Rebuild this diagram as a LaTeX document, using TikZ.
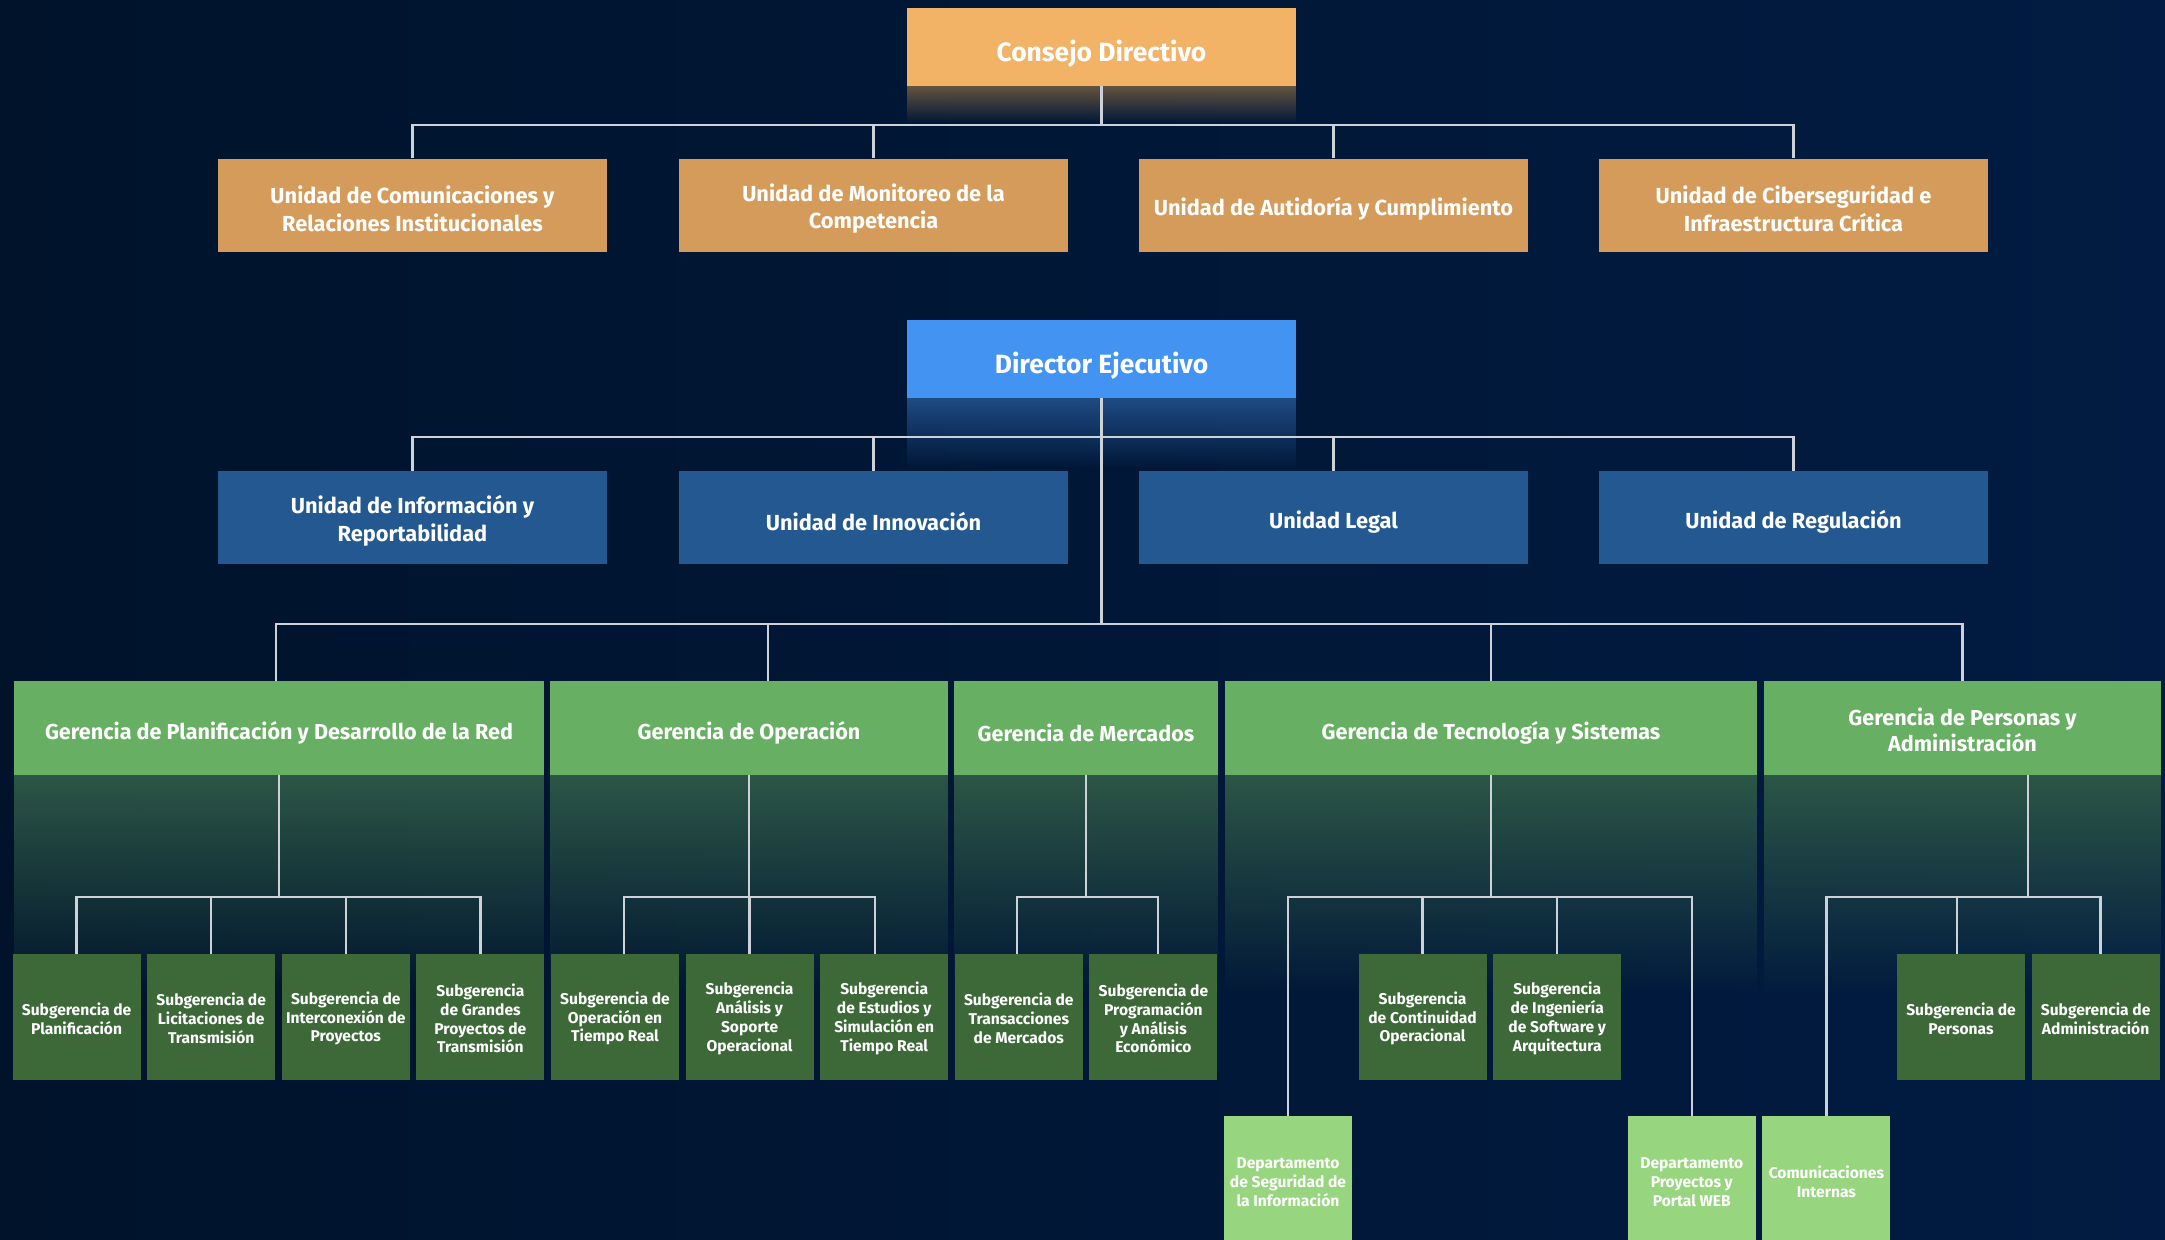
\documentclass[tikz,border=0pt]{standalone}
\usepackage{fontspec}
\newfontfamily\cf{Fira Sans}
\usetikzlibrary{fadings}
\pgfdeclarelayer{bglayer}
\pgfdeclarelayer{connlayer}
\pgfsetlayers{bglayer,connlayer,main}
\newcommand\vlift[1]{\rule{0pt}{#1}}
\definecolor{bgL}{HTML}{00132B}
\definecolor{bgR}{HTML}{011B42}
\definecolor{cOrange}{HTML}{F2B366}
\definecolor{cOrangeD}{HTML}{D49B5A}
\definecolor{cBlue}{HTML}{4394F2}
\definecolor{cBlueD}{HTML}{245890}
\definecolor{cGreen}{HTML}{67AF62}
\definecolor{cGreenD}{HTML}{3C6937}
\definecolor{cGreenL}{HTML}{97D67E}
\definecolor{shO}{HTML}{64543F}
\definecolor{shB}{HTML}{1F4B84}
\definecolor{shG}{HTML}{2C5646}
\definecolor{lineC}{HTML}{CDD1D8}
\tikzset{
  x=0.5pt,y=-0.5pt,
  box/.style={rectangle, inner sep=0pt, align=center, text=white},
  lower/.style={execute at begin node={\rule{0pt}{#1}}},
  bigbox/.style={box, minimum width=194.5pt, lower=1.3em, font=\cf\bfseries\fontsize{13.2}{16}\selectfont},
  unitbox/.style={box, minimum width=194.5pt, minimum height=46.5pt, lower=1.2em, font=\cf\bfseries\fontsize{10.9}{13.8}\selectfont},
  gerbox/.style={box, fill=cGreen, minimum height=47pt, lower=1.25em, font=\cf\bfseries\fontsize{10.8}{13.2}\selectfont},
  subbox/.style={box, fill=cGreenD, minimum width=64pt, minimum height=63pt, font=\cf\bfseries\fontsize{7.8}{9.4}\selectfont},
  deptbox/.style={box, fill=cGreenL, minimum width=64pt, minimum height=66pt, font=\cf\bfseries\fontsize{7.8}{9.6}\selectfont},
  conn/.style={draw=lineC, line width=1.2pt},
}
\begin{document}
\begin{tikzpicture}
\useasboundingbox (0,0) rectangle (2165,1239);
\begin{pgfonlayer}{bglayer}
\shade[left color=bgL, right color=bgR] (0,0) rectangle (2165,1239);
\fill[shO, path fading=south] (907,86) rectangle (1296,123);
\fill[shB, path fading=south] (907,398) rectangle (1296,469);
\foreach \a/\b in {14/544, 550/948, 954/1218, 1225/1757, 1764/2161}
  \fill[shG, path fading=south] (\a,775) rectangle (\b,996);
\end{pgfonlayer}

% bus coordinates
\coordinate (busA) at (0,125);
\coordinate (busB) at (0,437);
\coordinate (busC) at (0,624);
\coordinate (busD) at (0,897);

% nodes
\node[bigbox, fill=cOrange, minimum height=39pt] (consejo) at (1101.5,47) {Consejo Directivo};
\node[unitbox, fill=cOrangeD] (u1) at (412.5,205) {\vlift{1.15em}Unidad de Comunicaciones y\\Relaciones Institucionales};
\node[unitbox, fill=cOrangeD] (u2) at (873.5,205) {\vlift{1.15em}Unidad de Monitoreo de la\\Competencia};
\node[unitbox, fill=cOrangeD] (u3) at (1333.5,205) {Unidad de Autidoría y Cumplimiento};
\node[unitbox, fill=cOrangeD] (u4) at (1793.5,205) {\vlift{1.15em}Unidad de Ciberseguridad e\\Infraestructura Crítica};

\node[bigbox, fill=cBlue, minimum height=39pt] (director) at (1101.5,359) {Director Ejecutivo};
\node[unitbox, fill=cBlueD] (b1) at (412.5,517.5) {\vlift{1.15em}Unidad de Información y\\Reportabilidad};
\node[unitbox, fill=cBlueD] (b2) at (873.5,517.5) {Unidad de Innovación};
\node[unitbox, fill=cBlueD] (b3) at (1333.5,517.5) {Unidad Legal};
\node[unitbox, fill=cBlueD] (b4) at (1793.5,517.5) {Unidad de Regulación};

\node[gerbox, minimum width=265pt] (g1) at (279,728) {Gerencia de Planificación y Desarrollo de la Red};
\node[gerbox, minimum width=199pt] (g2) at (749,728) {Gerencia de Operación};
\node[gerbox, minimum width=132pt] (g3) at (1086,728) {Gerencia de Mercados};
\node[gerbox, minimum width=266pt] (g4) at (1491,728) {Gerencia de Tecnología y Sistemas};
\node[gerbox, minimum width=198.5pt] (g5) at (1962.5,728) {\vlift{1.0em}Gerencia de Personas y\\Administración};

\node[subbox] (s1) at (76.6,1017) {\vlift{1.0em}Subgerencia de\\Planificación};
\node[subbox] (s2) at (211.2,1017) {\vlift{1.0em}Subgerencia de\\Licitaciones de\\Transmisión};
\node[subbox] (s3) at (345.8,1017) {\vlift{1.0em}Subgerencia de\\Interconexión de\\Proyectos};
\node[subbox] (s4) at (480.4,1017) {\vlift{1.0em}Subgerencia\\de Grandes\\Proyectos de\\Transmisión};
\node[subbox] (s5) at (615.0,1017) {\vlift{1.0em}Subgerencia de\\Operación en\\Tiempo Real};
\node[subbox] (s6) at (749.6,1017) {\vlift{1.0em}Subgerencia\\Análisis y\\Soporte\\Operacional};
\node[subbox] (s7) at (884.2,1017) {\vlift{1.0em}Subgerencia\\de Estudios y\\Simulación en\\Tiempo Real};
\node[subbox] (s8) at (1018.8,1017) {\vlift{1.0em}Subgerencia de\\Transacciones\\de Mercados};
\node[subbox] (s9) at (1153.4,1017) {\vlift{1.0em}Subgerencia de\\Programación\\y Análisis\\Económico};
\node[deptbox] (d1) at (1288.0,1182) {Departamento\\de Seguridad de\\la Información};
\node[subbox] (s10) at (1422.6,1017) {\vlift{1.0em}Subgerencia\\de Continuidad\\Operacional};
\node[subbox] (s11) at (1557.2,1017) {\vlift{1.0em}Subgerencia\\de Ingeniería\\de Software y\\Arquitectura};
\node[deptbox] (d2) at (1691.8,1182) {Departamento\\Proyectos y\\Portal WEB};
\node[deptbox] (d3) at (1826.4,1182) {Comunicaciones\\Internas};
\node[subbox] (s12) at (1961.0,1017) {\vlift{1.0em}Subgerencia de\\Personas};
\node[subbox] (s13) at (2095.6,1017) {\vlift{1.0em}Subgerencia de\\Administración};

% connectors
\begin{pgfonlayer}{connlayer}
\foreach \u in {u1,u2,u3,u4}
  \draw[conn] (consejo.south) -- (consejo.south |- busA) -| (\u.north);
\draw[conn] (director.south) -- (director.south |- busC);
\foreach \b in {b1,b2,b3,b4}
  \draw[conn] (director.south |- busB) -| (\b.north);
\draw[conn] (director.south |- busC) -| ([xshift=-1.5pt]g1.north);
\draw[conn] (director.south |- busC) -| ([xshift=9.5pt]g2.north);
\draw[conn] (director.south |- busC) -| (g4.north);
\draw[conn] (director.south |- busC) -| (g5.north);
% Gerencia 1
\foreach \s in {s1,s2,s3,s4}
  \draw[conn] (g1.south) -- (g1.south |- busD) -| (\s.north);
% Gerencia 2
\draw[conn] (g2.south) -- (g2.south |- busD) -| ([xshift=4.5pt]s5.north);
\draw[conn] (g2.south |- busD) -| (s6.north);
\draw[conn] (g2.south |- busD) -| ([xshift=-4.5pt]s7.north);
% Gerencia 3
\draw[conn] (g3.south) -- (g3.south |- busD) -| ([xshift=-1pt]s8.north);
\draw[conn] (g3.south |- busD) -| ([xshift=2.3pt]s9.north);
% Gerencia 4
\foreach \s in {d1,s10,s11,d2}
  \draw[conn] (g4.south) -- (g4.south |- busD) -| (\s.north);
% Gerencia 5
\draw[conn] ([xshift=32.75pt]g5.south) -- ([xshift=32.75pt]g5.south |- busD) -| (d3.north);
\draw[conn] ([xshift=32.75pt]g5.south |- busD) -| ([xshift=-2pt]s12.north);
\draw[conn] ([xshift=32.75pt]g5.south |- busD) -| ([xshift=2.5pt]s13.north);
\end{pgfonlayer}
\end{tikzpicture}
\end{document}
